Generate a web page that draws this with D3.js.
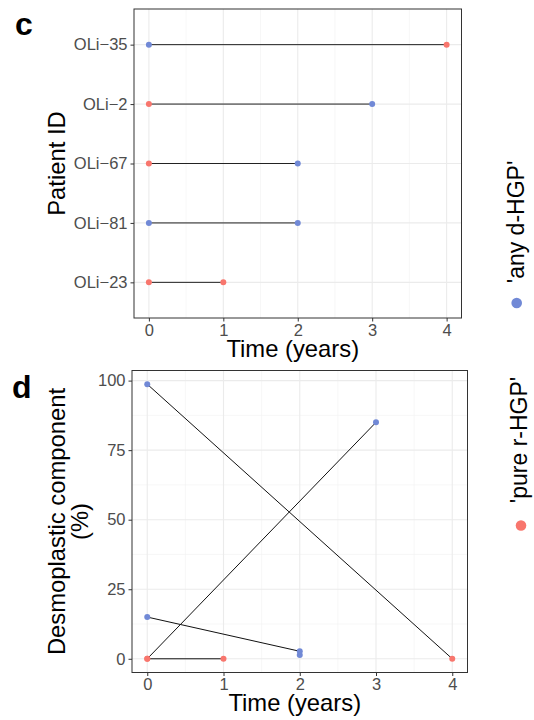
<!DOCTYPE html>
<html>
<head>
<meta charset="utf-8">
<script src="https://cdn.jsdelivr.net/npm/d3@7"></script>
<style>
  body { margin: 0; background: #fff; }
  text { font-family: "Liberation Sans", Arial, sans-serif; }
</style>
</head>
<body>
<svg id="fig" width="534" height="720"></svg>
<script>
// patients, top to bottom as on the y axis of panel c
var patients = ["OLi\u221235", "OLi\u22122", "OLi\u221267", "OLi\u221281", "OLi\u221223"];
var startTime = [0, 0, 0, 0, 0];
var endTime = [4, 3, 2, 2, 1];
// "d" = 'any d-HGP', "r" = 'pure r-HGP'
var startGroup = ["d", "r", "r", "d", "r"];
var endGroup = ["r", "d", "d", "d", "r"];
// desmoplastic component (%) at start / end (null = not shown)
var startDesmo = [98.7, 0, null, 15, 0];
var endDesmo = [0, 85, 1.4, 2.7, 0];

var timeTicks = [0, 1, 2, 3, 4];
var desmoTicks = [0, 25, 50, 75, 100];
var legendLabels = ["'any d-HGP'", "'pure r-HGP'"];

var colors = { d: "#7189d6", r: "#f8766d" };
var svg = d3.select("#fig");
var tickCol = "#4d4d4d";
var tickSize = "16.5px", titleSize = "23.8px";

function panelFrame(g, x, y, w, h) {
  g.append("rect").attr("x", x).attr("y", y).attr("width", w).attr("height", h)
    .attr("fill", "none").attr("stroke", "#333").attr("stroke-width", 1);
}
function styleAxis(a) {
  a.attr("font-size", null).attr("font-family", null);
  a.select(".domain").remove();
  a.selectAll("line").attr("stroke", "#333");
  a.selectAll("text").attr("fill", tickCol).style("font-size", tickSize);
}

// ---------- panel c ----------
var c = { left: 134, right: 461.5, top: 9, bottom: 318 };
var xc = d3.scaleLinear().domain([-0.2, 4.2]).range([c.left, c.right]);
var yc = d3.scalePoint().domain(patients).range([c.top, c.bottom]).padding(0.6);

var gc = svg.append("g");
gc.selectAll(".mnx").data([0.5, 1.5, 2.5, 3.5]).enter().append("line")
  .attr("x1", xc).attr("x2", xc).attr("y1", c.top).attr("y2", c.bottom)
  .attr("stroke", "#f2f2f2").attr("stroke-width", 0.6);
gc.selectAll(".mjx").data(timeTicks).enter().append("line")
  .attr("x1", xc).attr("x2", xc).attr("y1", c.top).attr("y2", c.bottom)
  .attr("stroke", "#ebebeb").attr("stroke-width", 1.1);
gc.selectAll(".mjy").data(patients).enter().append("line")
  .attr("x1", c.left).attr("x2", c.right).attr("y1", yc).attr("y2", yc)
  .attr("stroke", "#ebebeb").attr("stroke-width", 1.1);

gc.selectAll(".seg").data(patients).enter().append("line")
  .attr("x1", function(d, i) { return xc(startTime[i]); })
  .attr("x2", function(d, i) { return xc(endTime[i]); })
  .attr("y1", yc).attr("y2", yc)
  .attr("stroke", "#222").attr("stroke-width", 1);
gc.selectAll(".p0").data(patients).enter().append("circle")
  .attr("cx", function(d, i) { return xc(startTime[i]); }).attr("cy", yc).attr("r", 3)
  .attr("fill", function(d, i) { return colors[startGroup[i]]; });
gc.selectAll(".p1").data(patients).enter().append("circle")
  .attr("cx", function(d, i) { return xc(endTime[i]); }).attr("cy", yc).attr("r", 3)
  .attr("fill", function(d, i) { return colors[endGroup[i]]; });

panelFrame(gc, c.left, c.top, c.right - c.left, c.bottom - c.top);

var axc = gc.append("g").attr("transform", "translate(0," + c.bottom + ")")
  .call(d3.axisBottom(xc).tickValues(timeTicks).tickSize(3.5).tickPadding(2.5).tickFormat(d3.format("d")));
var ayc = gc.append("g").attr("transform", "translate(" + c.left + ",0)")
  .call(d3.axisLeft(yc).tickSize(3.5).tickPadding(3));
styleAxis(axc); styleAxis(ayc);

gc.append("text").attr("x", (c.left + c.right) / 2 - 5).attr("y", 357)
  .attr("text-anchor", "middle").style("font-size", titleSize).text("Time (years)");
gc.append("text").attr("transform", "translate(64.5," + (c.top + c.bottom) / 2 + ") rotate(-90)")
  .attr("text-anchor", "middle").style("font-size", titleSize).text("Patient ID");
gc.append("text").attr("x", 15).attr("y", 35).style("font-size", "32px")
  .style("font-weight", "bold").text("c");

// ---------- panel d ----------
var dp = { left: 132, right: 467.5, top: 370.5, bottom: 672.5 };
var xd = d3.scaleLinear().domain([-0.2, 4.2]).range([dp.left, dp.right]);
var yd = d3.scaleLinear().domain([-4.93, 103.63]).range([dp.bottom, dp.top]);

var gd = svg.append("g");
gd.selectAll(".mnx").data([0.5, 1.5, 2.5, 3.5]).enter().append("line")
  .attr("x1", xd).attr("x2", xd).attr("y1", dp.top).attr("y2", dp.bottom)
  .attr("stroke", "#f2f2f2").attr("stroke-width", 0.6);
gd.selectAll(".mny").data([12.5, 37.5, 62.5, 87.5]).enter().append("line")
  .attr("x1", dp.left).attr("x2", dp.right).attr("y1", yd).attr("y2", yd)
  .attr("stroke", "#f2f2f2").attr("stroke-width", 0.6);
gd.selectAll(".mjx").data(timeTicks).enter().append("line")
  .attr("x1", xd).attr("x2", xd).attr("y1", dp.top).attr("y2", dp.bottom)
  .attr("stroke", "#ebebeb").attr("stroke-width", 1.1);
gd.selectAll(".mjy").data(desmoTicks).enter().append("line")
  .attr("x1", dp.left).attr("x2", dp.right).attr("y1", yd).attr("y2", yd)
  .attr("stroke", "#ebebeb").attr("stroke-width", 1.1);

var withBoth = patients.map(function(d, i) { return i; })
  .filter(function(i) { return startDesmo[i] != null && endDesmo[i] != null; });
gd.selectAll(".seg").data(withBoth).enter().append("line")
  .attr("x1", function(i) { return xd(startTime[i]); })
  .attr("x2", function(i) { return xd(endTime[i]); })
  .attr("y1", function(i) { return yd(startDesmo[i]); })
  .attr("y2", function(i) { return yd(endDesmo[i]); })
  .attr("stroke", "#111").attr("stroke-width", 1);

var pts = [];
patients.forEach(function(p, i) {
  if (startDesmo[i] != null) pts.push({ t: startTime[i], v: startDesmo[i], g: startGroup[i] });
  if (endDesmo[i] != null) pts.push({ t: endTime[i], v: endDesmo[i], g: endGroup[i] });
});
gd.selectAll(".pt").data(pts).enter().append("circle")
  .attr("cx", function(d) { return xd(d.t); }).attr("cy", function(d) { return yd(d.v); })
  .attr("r", 3).attr("fill", function(d) { return colors[d.g]; });

panelFrame(gd, dp.left, dp.top, dp.right - dp.left, dp.bottom - dp.top);

var axd = gd.append("g").attr("transform", "translate(0," + dp.bottom + ")")
  .call(d3.axisBottom(xd).tickValues(timeTicks).tickSize(3.5).tickPadding(2.5).tickFormat(d3.format("d")));
var ayd = gd.append("g").attr("transform", "translate(" + dp.left + ",0)")
  .call(d3.axisLeft(yd).tickValues(desmoTicks).tickSize(3.5).tickPadding(3));
styleAxis(axd); styleAxis(ayd);

gd.append("text").attr("x", (dp.left + dp.right) / 2 - 5).attr("y", 711)
  .attr("text-anchor", "middle").style("font-size", titleSize).text("Time (years)");
var ytd = gd.append("text").attr("transform", "translate(64.5," + (dp.top + dp.bottom) / 2 + ") rotate(-90)")
  .attr("text-anchor", "middle").style("font-size", titleSize);
ytd.append("tspan").attr("x", 0).attr("dy", 0).text("Desmoplastic component");
ytd.append("tspan").attr("x", 0).attr("dy", 23.5).text("(%)");
gd.append("text").attr("x", 12).attr("y", 397.5).style("font-size", "32px")
  .style("font-weight", "bold").text("d");

// ---------- legend ----------
var legendPos = [{ key: "d", x: 523.5, yc: 222, px: 516.7, py: 303 },
                 { key: "r", x: 526.5, yc: 440, px: 521, py: 525.5 }];
var gl = svg.append("g");
legendPos.forEach(function(l, i) {
  gl.append("text").attr("transform", "translate(" + l.x + "," + l.yc + ") rotate(-90)")
    .attr("text-anchor", "middle").style("font-size", "23px").text(legendLabels[i]);
  gl.append("circle").attr("cx", l.px).attr("cy", l.py).attr("r", 5.3).attr("fill", colors[l.key]);
});
</script>
</body>
</html>
